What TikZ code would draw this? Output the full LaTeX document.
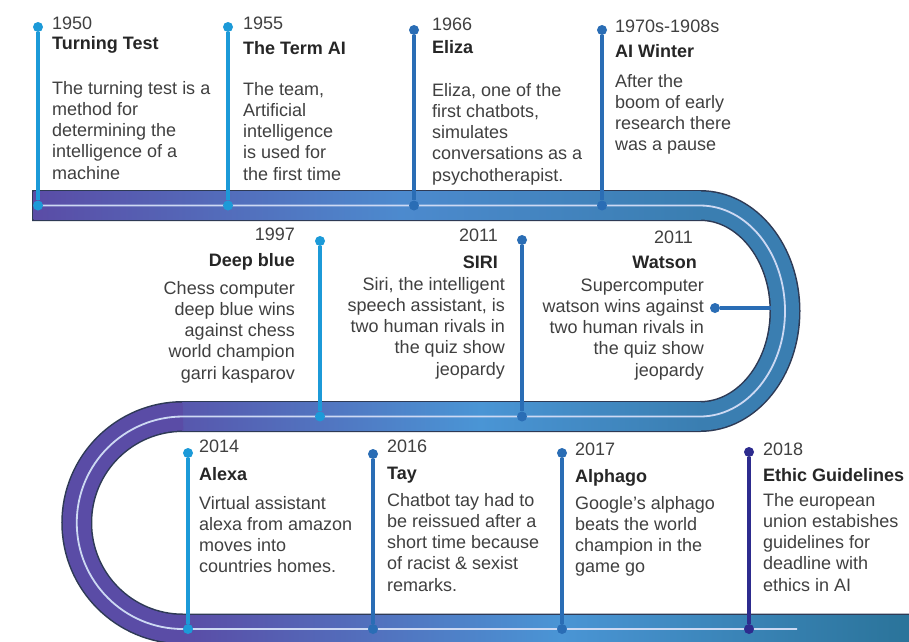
\documentclass[tikz,border=0pt]{standalone}
\usepackage{fontspec}
\setmainfont{Liberation Sans}
\usepackage{tikz}
\usetikzlibrary{arrows}
\usepackage{xcolor}

\definecolor{lblue}{HTML}{1C9AD8}
\definecolor{mblue}{HTML}{2A6DB5}
\definecolor{dblue}{HTML}{2D2B8E}
\definecolor{bpurple}{HTML}{5A4CA6}
\definecolor{bblue}{HTML}{4A95D5}
\definecolor{bsteel}{HTML}{3A7EB1}
\definecolor{bteal}{HTML}{2A7399}
\definecolor{bedge}{HTML}{2E3A55}
\definecolor{bline}{HTML}{CDD9F3}
\definecolor{txt}{HTML}{404040}

\newcommand{\lft}[1]{\begin{tabular}[t]{@{}l@{}}#1\end{tabular}}
\newcommand{\rgt}[1]{\begin{tabular}[t]{@{}r@{}}#1\end{tabular}}

\tikzset{
  dotmark/.style={circle, fill, inner sep=0pt, minimum size=10pt},
  stemline/.style={line width=4pt},
  yeartext/.style={inner sep=0pt, text=txt, font=\fontsize{18}{21.3}\selectfont},
  headtext/.style={inner sep=0pt, text=black!85, font=\fontsize{18}{21.3}\selectfont\bfseries},
  bodytext/.style={inner sep=0pt, text=txt, font=\fontsize{18}{21.3}\selectfont},
}

\begin{document}
\begin{tikzpicture}[x=1pt,y=-1pt]
     \useasboundingbox (0,0) rectangle (909,641);
     \fill[white] (0,0) rectangle (909,641);

     \draw[bedge, line width=31pt] (32,205.5) -- (700,205.5) arc[start angle=-90, end angle=90, x radius=85, y radius=105.5] -- (183,416.5) arc[start angle=270, end angle=90, radius=106.25] -- (915,629);
     \shade[left color=bpurple, right color=bblue!85!bpurple] (33.5,191.5) rectangle (400.5,219.5);
     \shade[left color=bblue!85!bpurple, right color=bsteel] (400,191.5) rectangle (701,219.5);
     \draw[bsteel, line width=28pt] (700,205.5) arc[start angle=-90, end angle=90, x radius=85, y radius=105.5];
     \shade[left color=bblue, right color=bsteel] (479.5,402.5) rectangle (701,430.5);
     \shade[left color=bpurple!85!bblue, right color=bblue] (182,402.5) rectangle (480,430.5);
     \draw[bpurple, line width=28pt] (183,416.5) arc[start angle=270, end angle=90, radius=106.25];
     \shade[left color=bpurple, right color=bblue] (182,615) rectangle (560.5,643);
     \shade[left color=bblue, right color=bteal] (560,615) rectangle (915,643);
     \draw[bline, line width=1.8pt] (35,205.5) -- (700,205.5) arc[start angle=-90, end angle=90, x radius=85, y radius=105.5] -- (183,416.5) arc[start angle=270, end angle=90, radius=106.25] -- (797,629);

     \node[dotmark, lblue] (p1) at (38,27) {};
     \node[dotmark, lblue] (q1) at (38,205.5) {};
     \draw[stemline, lblue] (p1) -- (q1);
     \node[dotmark, lblue] (p2) at (228,27) {};
     \node[dotmark, lblue] (q2) at (228,205.5) {};
     \draw[stemline, lblue] (p2) -- (q2);
     \node[dotmark, mblue] (p3) at (414,30) {};
     \node[dotmark, mblue] (q3) at (414,205.5) {};
     \draw[stemline, mblue] (p3) -- (q3);
     \node[dotmark, mblue] (p4) at (602,30) {};
     \node[dotmark, mblue] (q4) at (602,205.5) {};
     \draw[stemline, mblue] (p4) -- (q4);

     \node[dotmark, lblue] (p5) at (320,241) {};
     \node[dotmark, lblue] (q5) at (320,416.5) {};
     \draw[stemline, lblue] (p5) -- (q5);
     \node[dotmark, mblue] (p6) at (522,240) {};
     \node[dotmark, mblue] (q6) at (522,416.5) {};
     \draw[stemline, mblue] (p6) -- (q6);
     \node[dotmark, mblue] (p7) at (715,308) {};
     \coordinate (q7) at (771,308);
     \draw[stemline, mblue] (p7) -- (q7);

     \node[dotmark, lblue] (p8) at (188,453) {};
     \node[dotmark, lblue] (q8) at (188,629) {};
     \draw[stemline, lblue] (p8) -- (q8);
     \node[dotmark, mblue] (p9) at (373,454) {};
     \node[dotmark, mblue] (q9) at (373,629) {};
     \draw[stemline, mblue] (p9) -- (q9);
     \node[dotmark, mblue] (p10) at (562,453) {};
     \node[dotmark, mblue] (q10) at (562,629) {};
     \draw[stemline, mblue] (p10) -- (q10);
     \node[dotmark, dblue] (p11) at (749,452) {};
     \node[dotmark, dblue] (q11) at (749,629) {};
     \draw[stemline, dblue] (p11) -- (q11);

     \node[yeartext, anchor=base west] (y1) at (52,29) {1950};
     \node[headtext, anchor=base west] (h1) at (52,49) {Turning Test};
     \node[bodytext, anchor=base west] (d1) at (52,94) {\lft{The turning test is a\\method for\\determining the\\intelligence of a\\machine}};
     \node[yeartext, anchor=base west] (y2) at (243,29) {1955};
     \node[headtext, anchor=base west] (h2) at (243,54) {The Term AI};
     \node[bodytext, anchor=base west] (d2) at (243,95) {\lft{The team,\\Artificial\\intelligence\\is used for\\the first time}};
     \node[yeartext, anchor=base west] (y3) at (432,30) {1966};
     \node[headtext, anchor=base west] (h3) at (432,53) {Eliza};
     \node[bodytext, anchor=base west] (d3) at (432,96) {\lft{Eliza, one of the\\first chatbots,\\simulates\\conversations as a\\psychotherapist.}};
     \node[yeartext, anchor=base west] (y4) at (615,32) {1970s-1908s};
     \node[headtext, anchor=base west] (h4) at (615,57) {AI Winter};
     \node[bodytext, anchor=base west] (d4) at (615,87) {\lft{After the\\boom of early\\research there\\was a pause}};

     \node[yeartext, anchor=base east] (y5) at (295,240) {1997};
     \node[headtext, anchor=base east] (h5) at (295,266) {Deep blue};
     \node[bodytext, anchor=base east] (d5) at (295,294) {\rgt{Chess computer\\deep blue wins\\against chess\\world champion\\garri kasparov}};
     \node[yeartext, anchor=base east] (y6) at (498,241) {2011};
     \node[headtext, anchor=base east] (h6) at (498,268) {SIRI};
     \node[bodytext, anchor=base east] (d6) at (505,290) {\rgt{Siri, the intelligent\\speech assistant, is\\two human rivals in\\the quiz show\\jeopardy}};
     \node[yeartext, anchor=base east] (y7) at (693,243) {2011};
     \node[headtext, anchor=base east] (h7) at (697,268) {Watson};
     \node[bodytext, anchor=base east] (d7) at (704,291) {\rgt{Supercomputer\\watson wins against\\two human rivals in\\the quiz show\\jeopardy}};

     \node[yeartext, anchor=base west] (y8) at (199,452) {2014};
     \node[headtext, anchor=base west] (h8) at (199,480) {Alexa};
     \node[bodytext, anchor=base west] (d8) at (199,509) {\lft{Virtual assistant\\alexa from amazon\\moves into\\countries homes.}};
     \node[yeartext, anchor=base west] (y9) at (387,452) {2016};
     \node[headtext, anchor=base west] (h9) at (387,479) {Tay};
     \node[bodytext, anchor=base west] (d9) at (387,506) {\lft{Chatbot tay had to\\be reissued after a\\short time because\\of racist \& sexist\\remarks.}};
     \node[yeartext, anchor=base west] (y10) at (575,455) {2017};
     \node[headtext, anchor=base west] (h10) at (575,482) {Alphago};
     \node[bodytext, anchor=base west] (d10) at (575,509) {\lft{Google's alphago\\beats the world\\champion in the\\game go}};
     \node[yeartext, anchor=base west] (y11) at (763,455) {2018};
     \node[headtext, anchor=base west] (h11) at (763,481) {Ethic Guidelines};
     \node[bodytext, anchor=base west] (d11) at (763,506) {\lft{The european\\union estabishes\\guidelines for\\deadline with\\ethics in AI}};
\end{tikzpicture}
\end{document}
